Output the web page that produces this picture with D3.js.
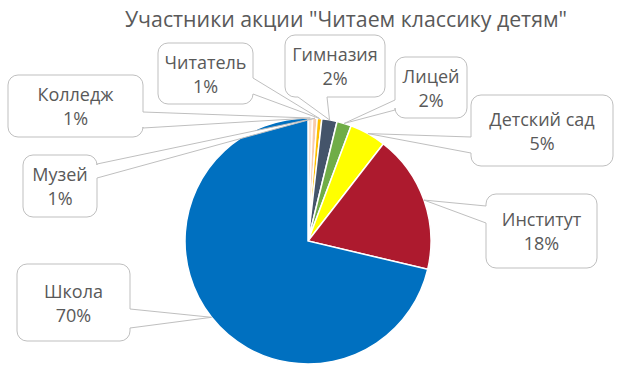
<!DOCTYPE html>
<html>
<head>
<meta charset="utf-8">
<script src="https://cdn.jsdelivr.net/npm/d3@7"></script>
<style>
  body { margin: 0; background: #fff; }
  svg.vis text { font-family: "Open Sans", Lato, sans-serif; fill: #595959; }
</style>
</head>
<body>
<svg class="vis" width="620" height="370"></svg>
<script>
const title = 'Участники акции "Читаем классику детям"';
const categories = ["Колледж", "Музей", "Читатель", "Гимназия", "Лицей", "Детский сад", "Институт", "Школа"];
const values = [0.6, 0.6, 0.6, 2.0, 1.9, 4.8, 18.2, 71.3];
const percentLabels = ["1%", "1%", "1%", "2%", "2%", "5%", "18%", "70%"];
const colors = ["#fbe5d6", "#f8cbad", "#ffc000", "#44546a", "#70ad47", "#ffff00", "#ad1a2e", "#0070c0"];

const v = {

    layout : {
        cx : 308,
        cy : 241,
        r : 123,
        // callout boxes, moved by hand like in the original
        boxes : [
            { x0: 8,   y0: 75,  x1: 143, y1: 137, side: "right",  a: 112, b: 128 },
            { x0: 23,  y0: 155, x1: 97,  y1: 217, side: "right",  a: 164, b: 178 },
            { x0: 158, y0: 43,  x1: 253, y1: 104, side: "right",  a: 78,  b: 94 },
            { x0: 285, y0: 35,  x1: 385, y1: 97,  side: "bottom", a: 298, b: 327 },
            { x0: 395, y0: 57,  x1: 467, y1: 118, side: "left",   a: 100, b: 110 },
            { x0: 471, y0: 95,  x1: 613, y1: 166, side: "left",   a: 137, b: 153 },
            { x0: 486, y0: 194, x1: 597, y1: 268, side: "left",   a: 206, b: 223 },
            { x0: 17,  y0: 264, x1: 130, y1: 341, side: "right",  a: 309, b: 328 }
        ]
    },

    vis : {

        svg : 'svg.vis',

        // rounded box with a wedge tail pointing at [tx, ty]
        callout : (bx, tx, ty) => {
            const k = 10;
            const { x0, y0, x1, y1, side, a, b } = bx;
            let p = `M${x0 + k},${y0}H${x1 - k}A${k},${k} 0 0 1 ${x1},${y0 + k}`;
            if (side == "right") p += `V${a}L${tx},${ty}L${x1},${b}`;
            p += `V${y1 - k}A${k},${k} 0 0 1 ${x1 - k},${y1}`;
            if (side == "bottom") p += `H${b}L${tx},${ty}L${a},${y1}`;
            p += `H${x0 + k}A${k},${k} 0 0 1 ${x0},${y1 - k}`;
            if (side == "left") p += `V${b}L${tx},${ty}L${x0},${a}`;
            p += `V${y0 + k}A${k},${k} 0 0 1 ${x0 + k},${y0}Z`;
            return p;
        },

        draw : () => {

            const svg = d3.select(v.vis.svg);
            const L = v.layout;

            svg.append("text")
              .attr("x", 346)
              .attr("y", 27)
              .attr("text-anchor", "middle")
              .attr("font-size", 21.3)
              .text(title);

            const arcs = d3.pie().sort(null).value(d => d)(values);
            const arc = d3.arc().innerRadius(0).outerRadius(L.r);

            const g = svg.append("g")
              .attr("transform", `translate(${L.cx},${L.cy})`);

            g.selectAll("path")
              .data(arcs)
              .join("path")
              .attr("d", arc)
              .attr("fill", (d, i) => colors[i])
              .attr("stroke", "#fff")
              .attr("stroke-width", 1.5);

            const labels = svg.append("g")
              .selectAll("g")
              .data(arcs)
              .join("g");

            labels.append("path")
              .attr("d", (d, i) => {
                  const mid = (d.startAngle + d.endAngle) / 2;
                  const [px, py] = d3.pointRadial(mid, L.r);
                  return v.vis.callout(L.boxes[i], L.cx + px, L.cy + py);
              })
              .attr("fill", "#fff")
              .attr("stroke", "#bfbfbf")
              .attr("stroke-width", 1);

            labels.append("text")
              .attr("x", (d, i) => (L.boxes[i].x0 + L.boxes[i].x1) / 2)
              .attr("y", (d, i) => (L.boxes[i].y0 + L.boxes[i].y1) / 2 - 12)
              .attr("text-anchor", "middle")
              .attr("dominant-baseline", "central")
              .attr("font-size", 18)
              .text((d, i) => categories[i]);

            labels.append("text")
              .attr("x", (d, i) => (L.boxes[i].x0 + L.boxes[i].x1) / 2)
              .attr("y", (d, i) => (L.boxes[i].y0 + L.boxes[i].y1) / 2 + 12)
              .attr("text-anchor", "middle")
              .attr("dominant-baseline", "central")
              .attr("font-size", 18)
              .text((d, i) => percentLabels[i]);

        }

    },

    ctrl : {
        init : () => {
            v.vis.draw();
        }
    }

}

v.ctrl.init();
</script>
</body>
</html>
